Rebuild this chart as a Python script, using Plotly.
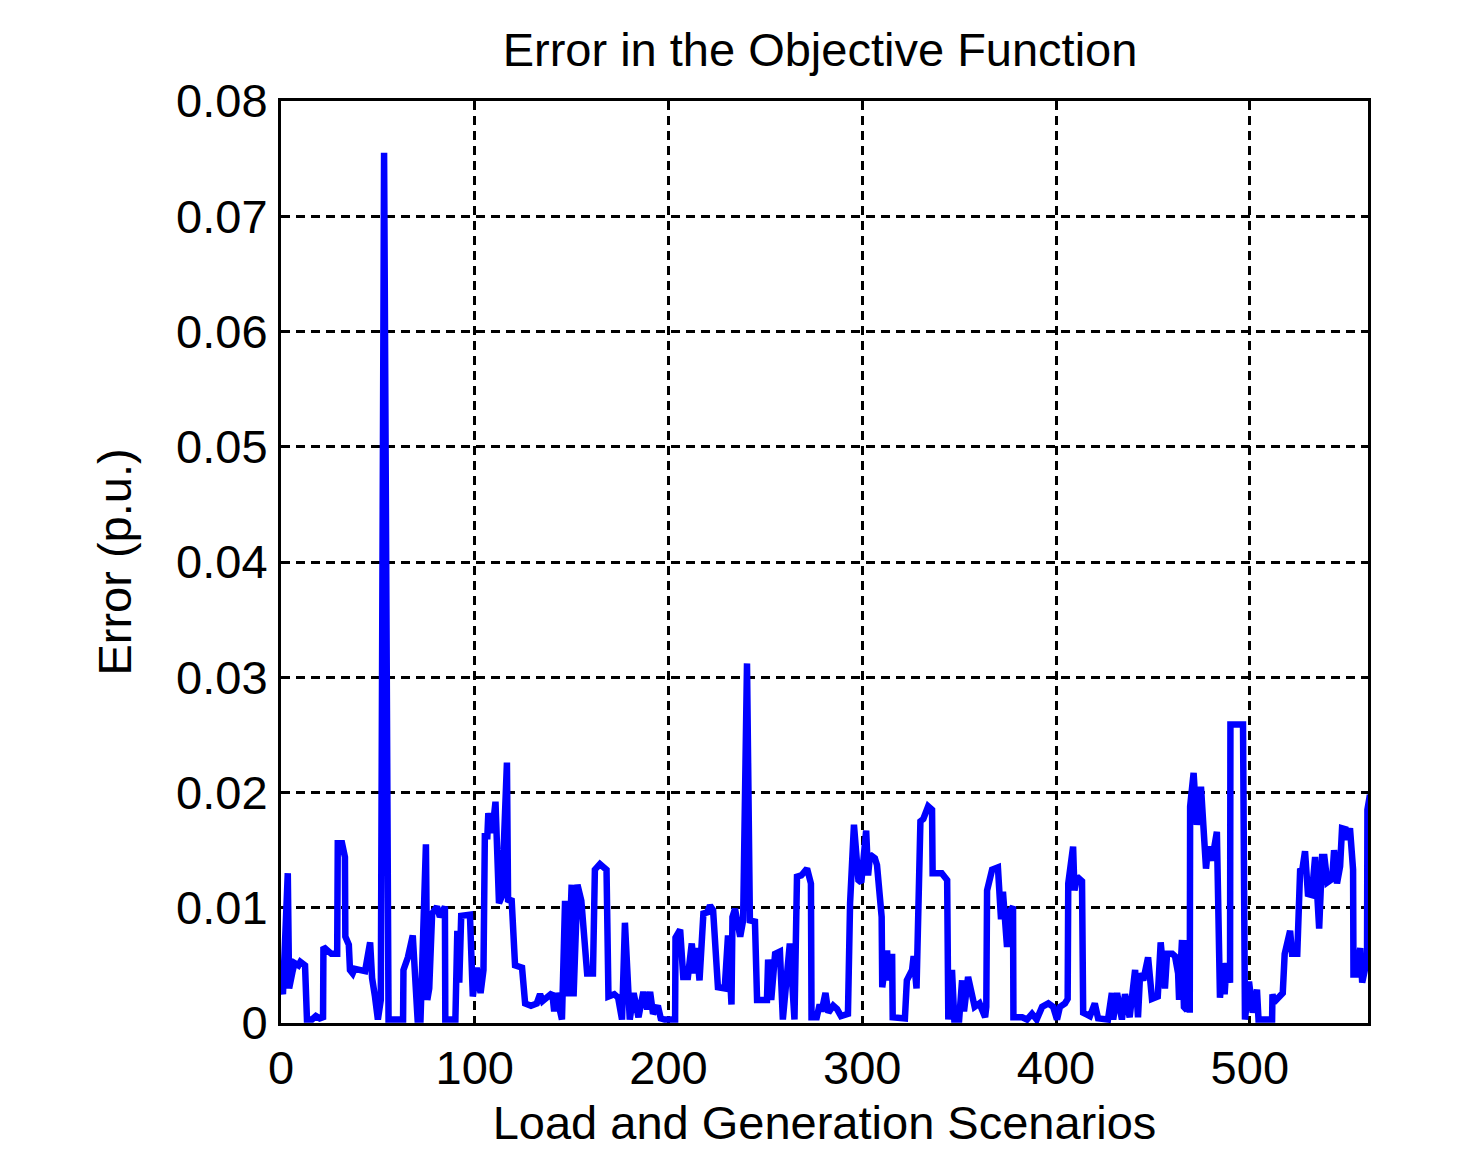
import plotly.graph_objects as go

# Scenario index and error values (p.u.)
scenario = [0, 1, 3.5, 4.2, 6, 7, 9, 10, 12.4, 13.4, 16, 18, 20, 21.7, 21.9, 24, 26, 29, 29.3, 31.5,
            33, 33.2, 35, 35.6, 37, 38, 40, 43.4, 46, 47, 48.5, 50, 51.5, 53.2, 55.5, 58, 63, 63.2, 65.5, 68,
            70.5, 72, 74.8, 75.5, 76.5, 78, 80.5, 82, 84.6, 84.8, 90, 91, 92, 93, 97.5, 99, 101, 103, 104.5, 105.2,
            106.5, 107, 108.5, 109, 110.7, 112.5, 114, 116.6, 117.2, 119, 120.8, 124.4, 126, 129, 132, 133.7, 135, 137, 140, 141,
            142, 145, 146.6, 148, 150, 151, 153, 155, 158, 161, 162, 164.6, 168, 169, 172, 174, 176, 177.5, 180, 182,
            184.5, 187, 189, 190.5, 192, 194.5, 196, 198, 203.4, 203.6, 206, 207.6, 210, 212, 213.5, 214.5, 216, 218, 220, 221.4,
            223, 225.5, 229, 230.7, 232.5, 233, 234.3, 237, 238.5, 240.5, 242, 244.6, 245.7, 250.8, 251.4, 253, 255, 257.5, 259, 262.6,
            265, 266.3, 268.5, 271.5, 273.5, 273.8, 276.5, 278, 279, 281, 282.5, 285, 287, 289, 292.6, 293.7, 295.7, 298, 299.5, 302,
            303, 304, 306.5, 307.6, 310, 310.3, 312.8, 313.5, 315.4, 315.7, 322, 323, 325.7, 326.5, 328, 330, 331.5, 334, 336, 336.3,
            341, 343.8, 344.4, 346.3, 347.5, 350, 351.5, 352.5, 354.6, 358, 360.5, 363.4, 364, 364.4, 367, 370, 370.5, 371.6, 372.6, 374.7,
            375.3, 377.8, 378, 382.5, 385, 387.6, 390, 392.8, 396, 398.5, 400.5, 402, 404.6, 406, 406.3, 408.8, 409.5, 410.8, 413.4, 414,
            417.5, 420, 421.7, 426.8, 428.8, 429.5, 431.5, 434, 435.6, 438, 440.8, 442.3, 443.4, 445, 447.5, 449.5, 452.5, 454, 456.2, 457.3,
            460, 461.4, 463, 463.5, 465, 466, 467.6, 468, 469, 469.2, 471, 472.6, 474.8, 476, 477.4, 478.5, 480.5, 483, 484.6, 486.2,
            487, 488, 489.8, 490, 496.5, 497.5, 499.6, 501.5, 503.7, 504.5, 511.5, 511.7, 512.5, 517, 518, 520.8, 521.8, 524.5, 526, 527,
            528.5, 530, 532, 533.7, 535.8, 537.3, 538.5, 540, 542.5, 543.5, 545, 546.6, 547.6, 549.5, 550.5, 551.7, 553.3, 553.5, 555, 557,
            558, 560.5, 560.7, 562]

error_pu = [0.0035, 0.0025, 0.013, 0.003, 0.0045, 0.0052, 0.005, 0.0053, 0.005, 0.0003, 0.0003, 0.0006, 0.0004, 0.0005, 0.0066, 0.0062, 0.006, 0.006, 0.0156, 0.0156,
            0.0144, 0.0075, 0.0068, 0.0046, 0.0043, 0.0047, 0.0046, 0.0045, 0.007, 0.0039, 0.0023, 0.0003, 0.002, 0.0755, 0.0003, 0.0003, 0.0003, 0.0046, 0.0057, 0.0076,
            0.0003, 0.0003, 0.0155, 0.002, 0.003, 0.0095, 0.0101, 0.0092, 0.0101, 0.0003, 0.0003, 0.008, 0.0035, 0.0093, 0.0094, 0.0023, 0.0048, 0.0026, 0.0046, 0.0162,
            0.0162, 0.0182, 0.0165, 0.0165, 0.0192, 0.0104, 0.011, 0.0226, 0.0105, 0.0108, 0.005, 0.0048, 0.0017, 0.0015, 0.0017, 0.0025, 0.0019, 0.0022, 0.0026, 0.001,
            0.0026, 0.0003, 0.0106, 0.0023, 0.012, 0.0023, 0.012, 0.0106, 0.0043, 0.0043, 0.0133, 0.0138, 0.0133, 0.0023, 0.0025, 0.0022, 0.0003, 0.0087, 0.0003, 0.0026,
            0.0005, 0.0027, 0.0012, 0.0027, 0.0008, 0.0015, 0.0004, 0.0003, 0.0003, 0.0074, 0.0081, 0.004, 0.004, 0.0069, 0.0043, 0.0065, 0.0037, 0.0095, 0.0096, 0.0102,
            0.0098, 0.0031, 0.003, 0.0076, 0.0016, 0.0092, 0.0099, 0.0075, 0.0089, 0.0312, 0.0089, 0.0088, 0.002, 0.002, 0.0055, 0.002, 0.006, 0.0062, 0.0003, 0.0069,
            0.0003, 0.0127, 0.0128, 0.0134, 0.0121, 0.0005, 0.0005, 0.0016, 0.001, 0.0026, 0.0009, 0.0015, 0.0012, 0.0006, 0.0008, 0.0104, 0.0172, 0.0124, 0.0122, 0.0167,
            0.0128, 0.0146, 0.0143, 0.0137, 0.0092, 0.0031, 0.0063, 0.0037, 0.006, 0.0005, 0.0004, 0.0037, 0.0046, 0.0058, 0.003, 0.0175, 0.0177, 0.0188, 0.0185, 0.013,
            0.013, 0.0124, 0.0003, 0.0046, 0.0003, 0.0003, 0.0037, 0.001, 0.004, 0.0014, 0.0017, 0.0005, 0.0014, 0.0115, 0.0133, 0.0135, 0.0115, 0.009, 0.0114, 0.0066,
            0.0095, 0.0101, 0.0005, 0.0005, 0.0003, 0.0008, 0.0003, 0.0014, 0.0017, 0.0014, 0.0003, 0.0014, 0.0017, 0.0021, 0.0121, 0.0153, 0.0115, 0.0127, 0.0123, 0.0009,
            0.0006, 0.0017, 0.0004, 0.0003, 0.0026, 0.0003, 0.0026, 0.0003, 0.0025, 0.0005, 0.0046, 0.0005, 0.0043, 0.0037, 0.0057, 0.0021, 0.0023, 0.007, 0.003, 0.006,
            0.006, 0.0058, 0.0043, 0.002, 0.0072, 0.0014, 0.0011, 0.0072, 0.0009, 0.0188, 0.0217, 0.0172, 0.0205, 0.0178, 0.0134, 0.0153, 0.0141, 0.0166, 0.0022, 0.0052,
            0.0025, 0.0052, 0.0035, 0.0259, 0.0259, 0.0003, 0.0036, 0.0009, 0.0029, 0.0003, 0.0003, 0.0025, 0.0018, 0.0026, 0.006, 0.008, 0.006, 0.006, 0.0134, 0.0132,
            0.0149, 0.0112, 0.0111, 0.0144, 0.0082, 0.0144, 0.0144, 0.0122, 0.0125, 0.015, 0.0121, 0.0136, 0.0169, 0.0168, 0.0159, 0.0169, 0.0133, 0.0042, 0.0042, 0.0065,
            0.0035, 0.0055, 0.0185, 0.0198]

x_tickvals = [0, 100, 200, 300, 400, 500]
x_ticktext = ["0", "100", "200", "300", "400", "500"]
y_tickvals = [0, 0.01, 0.02, 0.03, 0.04, 0.05, 0.06, 0.07, 0.08]
y_ticktext = ["0", "0.01", "0.02", "0.03", "0.04", "0.05", "0.06", "0.07", "0.08"]

FONT = "Liberation Sans, Arial, sans-serif"
FS = 47

fig = go.Figure()
fig.add_trace(go.Scatter(
    x=scenario, y=error_pu, mode="lines",
    line=dict(color="#0000FF", width=6.5),
    showlegend=False,
))

axis_common = dict(
    showline=True, linecolor="black", linewidth=3, mirror=True,
    showgrid=True, gridcolor="black", gridwidth=2.5, griddash="9px,6px",
    zeroline=False, ticks="", automargin=False,
    tickfont=dict(family=FONT, size=FS, color="black"),
)

fig.update_layout(
    width=1468, height=1149,
    margin=dict(l=281, r=100, t=101, b=126),
    paper_bgcolor="white", plot_bgcolor="white",
    font=dict(family=FONT, color="black"),
    title=dict(text="Error in the Objective Function", x=0.5586, xanchor="center",
               y=0.957, yanchor="middle", font=dict(family=FONT, size=FS, color="black")),
    xaxis=dict(range=[0, 561], tickvals=x_tickvals, ticktext=x_ticktext,
               title=dict(text="Load and Generation Scenarios", font=dict(family=FONT, size=FS, color="black"), standoff=25),
               ticklabelstandoff=2, **axis_common),
    yaxis=dict(range=[0, 0.08], tickvals=y_tickvals, ticktext=y_ticktext,
               title=dict(text="Error (p.u.)", font=dict(family=FONT, size=FS, color="black"), standoff=30),
               ticklabelstandoff=1, **axis_common),
)

fig.write_html("out.html")
